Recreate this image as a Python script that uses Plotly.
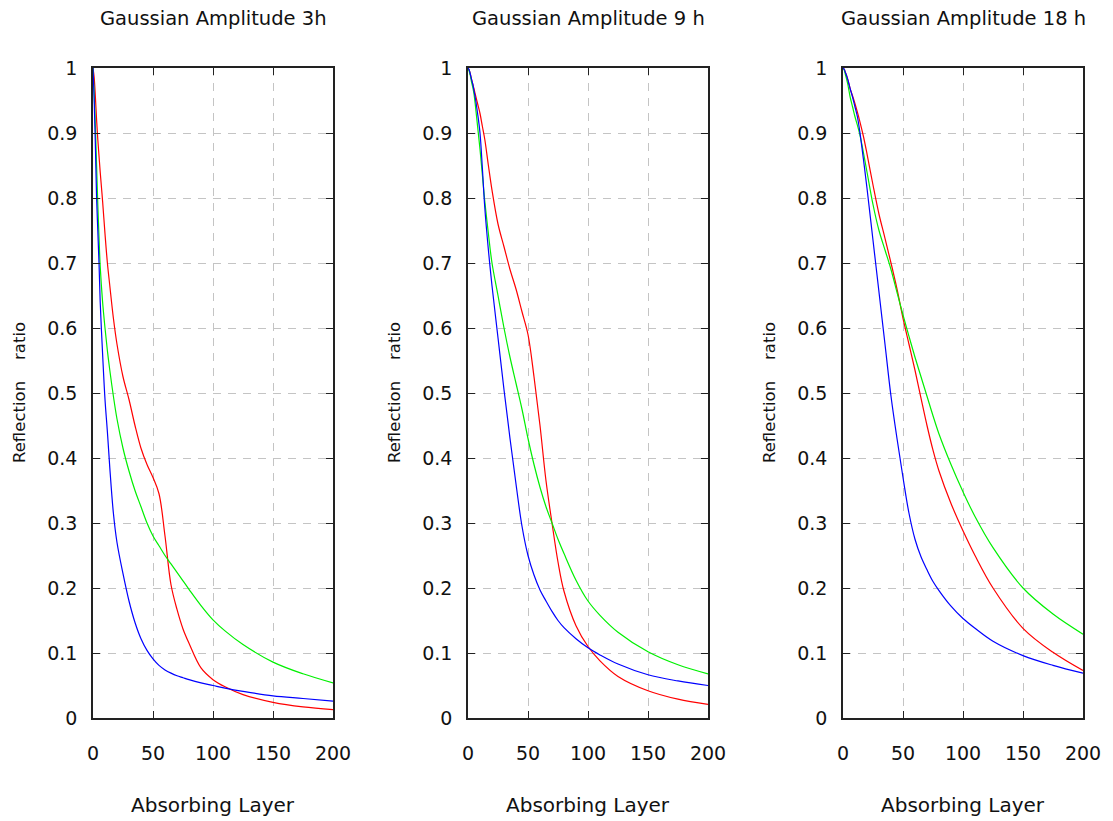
import plotly.graph_objects as go

# ---------------- data ----------------
absorbing_layer = [0, 1, 2, 3, 4, 5, 6, 8, 10, 12, 14, 17, 20, 25, 30, 35, 40, 45, 50,
                   55, 60, 65, 70, 75, 80, 90, 100, 110, 125, 150, 175, 200]

panel_titles = ["Gaussian Amplitude 3h", "Gaussian Amplitude 9 h", "Gaussian Amplitude 18 h"]

# Gaussian amplitude 3h
red_3h = [1.0, 0.985, 0.955, 0.92, 0.89, 0.865, 0.84, 0.795, 0.745, 0.70,
          0.665, 0.615, 0.575, 0.525, 0.49, 0.45, 0.415, 0.39, 0.37, 0.345,
          0.28, 0.205, 0.167, 0.137, 0.115, 0.077, 0.059, 0.048, 0.036, 0.024,
          0.017, 0.013]
green_3h = [1.0, 0.96, 0.91, 0.85, 0.79, 0.74, 0.695, 0.64, 0.60, 0.565,
            0.535, 0.495, 0.46, 0.415, 0.38, 0.35, 0.325, 0.30, 0.28, 0.265,
            0.25, 0.237, 0.224, 0.211, 0.198, 0.173, 0.151, 0.134, 0.113, 0.086,
            0.068, 0.054]
blue_3h = [1.0, 0.95, 0.88, 0.80, 0.75, 0.70, 0.64, 0.56, 0.49, 0.44,
           0.385, 0.315, 0.27, 0.222, 0.18, 0.147, 0.122, 0.104, 0.091, 0.081,
           0.074, 0.069, 0.065, 0.062, 0.059, 0.054, 0.05, 0.046, 0.041, 0.034,
           0.030, 0.026]

# Gaussian amplitude 9 h
red_9h = [1.0, 0.997, 0.99, 0.982, 0.975, 0.968, 0.96, 0.945, 0.93, 0.91,
          0.89, 0.85, 0.812, 0.76, 0.725, 0.69, 0.66, 0.625, 0.59, 0.525,
          0.45, 0.365, 0.30, 0.24, 0.195, 0.142, 0.11, 0.088, 0.064, 0.042,
          0.029, 0.021]
green_9h = [1.0, 0.995, 0.988, 0.978, 0.97, 0.96, 0.945, 0.91, 0.875, 0.835,
            0.795, 0.745, 0.70, 0.65, 0.60, 0.555, 0.515, 0.475, 0.43, 0.39,
            0.355, 0.325, 0.30, 0.275, 0.253, 0.212, 0.18, 0.158, 0.132, 0.102,
            0.082, 0.068]
blue_9h = [1.0, 0.997, 0.99, 0.982, 0.975, 0.965, 0.955, 0.93, 0.90, 0.845,
           0.785, 0.72, 0.665, 0.585, 0.505, 0.43, 0.36, 0.295, 0.25, 0.22,
           0.197, 0.18, 0.164, 0.15, 0.139, 0.122, 0.108, 0.097, 0.083, 0.0665,
           0.057, 0.05]

# Gaussian amplitude 18 h
red_18h = [1.0, 0.998, 0.993, 0.988, 0.982, 0.975, 0.968, 0.957, 0.945, 0.932,
           0.918, 0.895, 0.868, 0.82, 0.775, 0.738, 0.70, 0.66, 0.615, 0.575,
           0.535, 0.492, 0.45, 0.412, 0.38, 0.33, 0.288, 0.25, 0.20, 0.138,
           0.101, 0.073]
green_18h = [1.0, 0.997, 0.99, 0.983, 0.975, 0.965, 0.955, 0.94, 0.925, 0.912,
             0.898, 0.87, 0.84, 0.79, 0.75, 0.72, 0.69, 0.655, 0.62, 0.587,
             0.555, 0.525, 0.495, 0.465, 0.437, 0.39, 0.348, 0.31, 0.262, 0.20,
             0.16, 0.129]
blue_18h = [1.0, 0.998, 0.993, 0.988, 0.982, 0.975, 0.968, 0.955, 0.94, 0.925,
            0.902, 0.86, 0.815, 0.735, 0.655, 0.575, 0.495, 0.43, 0.37, 0.315,
            0.275, 0.248, 0.228, 0.21, 0.196, 0.172, 0.153, 0.138, 0.118, 0.096,
            0.081, 0.069]

x_ticks = [0, 50, 100, 150, 200]
y_ticks = [0, 0.1, 0.2, 0.3, 0.4, 0.5, 0.6, 0.7, 0.8, 0.9, 1]

panels = [
    (red_3h, green_3h, blue_3h),
    (red_9h, green_9h, blue_9h),
    (red_18h, green_18h, blue_18h),
]

# ---------------- layout geometry ----------------
# The page body has an 8px margin, so the figure is made 8px smaller and every
# screen position below is shifted by that offset.
SCREEN_W, SCREEN_H = 1113, 821
OFF = 8
W, H = SCREEN_W - OFF, SCREEN_H - OFF
plot_left_px = [93 - OFF, 468 - OFF, 843 - OFF]
plot_w_px = 240
plot_top_px, plot_bot_px = 68 - OFF, 718 - OFF

FONT = "DejaVu Sans"
colors = ["#ff0000", "#00f000", "#0000ff"]

fig = go.Figure()

for i, series in enumerate(panels):
    xa = "x" if i == 0 else f"x{i+1}"
    ya = "y" if i == 0 else f"y{i+1}"
    for ys, c in zip(series, colors):
        fig.add_trace(go.Scatter(
            x=absorbing_layer, y=ys, mode="lines",
            line=dict(color=c, width=1.2, shape="spline", smoothing=1.0),
            xaxis=xa, yaxis=ya, showlegend=False, hoverinfo="x+y",
        ))

axis_common = dict(
    showline=True, linecolor="#222222", linewidth=1.5, mirror="ticks",
    ticks="inside", ticklen=7, tickwidth=1.2, tickcolor="#222222",
    showgrid=True, gridcolor="#c4c4c4", gridwidth=1, griddash="8px,7px",
    zeroline=False, automargin=False,
    tickfont=dict(family=FONT, size=19, color="#111111"),
)

layout = dict(
    width=W, height=H, autosize=False,
    margin=dict(l=0, r=0, t=0, b=0, pad=0, autoexpand=False),
    paper_bgcolor="white", plot_bgcolor="white",
    showlegend=False,
    annotations=[],
)

for i in range(3):
    sx = "" if i == 0 else str(i + 1)
    x0 = plot_left_px[i] / W
    x1 = (plot_left_px[i] + plot_w_px) / W
    layout[f"xaxis{sx}"] = dict(
        axis_common, domain=[x0, x1], range=[0, 200],
        tickvals=x_ticks, ticktext=[str(v) for v in x_ticks],
        anchor=f"y{sx}", ticklabelstandoff=17,
    )
    layout[f"yaxis{sx}"] = dict(
        axis_common, domain=[1 - plot_bot_px / H, 1 - plot_top_px / H],
        range=[0, 1], tickvals=y_ticks,
        ticktext=[f"{v:g}" for v in y_ticks],
        anchor=f"x{sx}", ticklabelstandoff=10,
    )
    cx = (plot_left_px[i] + plot_w_px / 2) / W
    layout["annotations"] += [
        dict(text=panel_titles[i], xref="paper", yref="paper", x=cx,
             y=1 - (18 - OFF) / H,
             xanchor="center", yanchor="middle", showarrow=False,
             font=dict(family=FONT, size=19.5, color="#111111")),
        dict(text="Absorbing Layer", xref="paper", yref="paper", x=cx,
             y=1 - (805 - OFF) / H,
             xanchor="center", yanchor="middle", showarrow=False,
             font=dict(family=FONT, size=20, color="#111111")),
        dict(text="Reflection\u00a0\u00a0\u00a0\u00a0ratio", xref="paper", yref="paper",
             x=(plot_left_px[i] - 74) / W, y=1 - (393 - OFF) / H,
             xanchor="center", yanchor="middle", textangle=-90, showarrow=False,
             font=dict(family=FONT, size=16.5, color="#111111")),
    ]

fig.update_layout(**layout)
fig.write_html("out.html")
